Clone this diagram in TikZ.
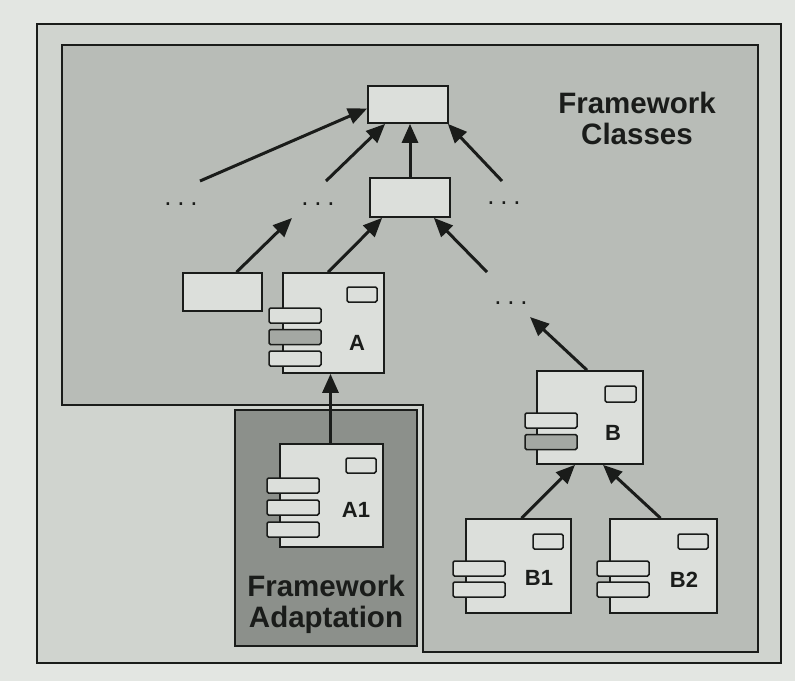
\documentclass[tikz,border=0pt]{standalone}
\usepackage{fontspec}
\setmainfont{Liberation Sans}
\usetikzlibrary{arrows.meta,calc}
\definecolor{pagebg}{HTML}{E3E6E2}
\definecolor{outerbg}{HTML}{D0D4CF}
\definecolor{classbg}{HTML}{B8BCB7}
\definecolor{adaptbg}{HTML}{8C908B}
\definecolor{boxbg}{HTML}{DCDFDB}
\definecolor{tabshade}{HTML}{A4A8A3}
\definecolor{ink}{HTML}{1A1C1A}
\tikzset{
  frameline/.style={draw=ink,line width=1.6pt},
  box/.style={draw=ink,line width=1.7pt,fill=boxbg,rectangle,inner sep=0pt},
  comp/.style={draw=ink,line width=1.7pt,fill=boxbg,rectangle,inner sep=0pt},
  tab/.style={draw=ink,line width=1.5pt,fill=boxbg,rectangle,rounded corners=1.5pt,inner sep=0pt,minimum width=52pt,minimum height=15pt},
  shadedtab/.style={tab,fill=tabshade},
  mini/.style={draw=ink,line width=1.5pt,fill=boxbg,rectangle,rounded corners=1.5pt,inner sep=0pt,minimum width=30pt,minimum height=15pt},
  lbl/.style={font=\fontsize{22}{22}\selectfont\bfseries,text=ink,inner sep=0pt},
  title/.style={font=\fontsize{29.5}{31}\selectfont\bfseries,text=ink,align=center,inner sep=0pt},
  dotrow/.style={font=\fontsize{26}{26}\selectfont,text=ink,inner sep=0pt,anchor=base},
  arr/.style={draw=ink,line width=3pt,-{Triangle[length=19pt,width=16pt]}}
}
\begin{document}
\begin{tikzpicture}[x=1pt,y=-1pt]
\fill[pagebg] (0,0) rectangle (795,681);
\useasboundingbox (0,0) rectangle (795,681);
% outer frame
\draw[frameline,fill=outerbg] (37,24) rectangle (781,663);
% framework classes region
\draw[frameline,fill=classbg] (62,45) -- (758,45) -- (758,652) -- (423,652) -- (423,405) -- (62,405) -- cycle;
% framework adaptation region
\draw[frameline,fill=adaptbg] (235,410) rectangle (417,646);

\node[title] (fc) at (637,118) {Framework\\Classes};
\node[title] (fa) at (326,604) {Framework\\Adaptation};

% plain class boxes
\node[box,minimum width=80pt,minimum height=37pt] (top) at (408,104.5) {};
\node[box,minimum width=80pt,minimum height=39pt] (mid) at (410,197.5) {};
\node[box,minimum width=79pt,minimum height=38pt] (left) at (222.5,292) {};

% component A
\node[comp,minimum width=101pt,minimum height=100pt] (A) at (333.5,323) {};
\node[mini] (Am) at (362,294.5) {};
\node[tab] (At1) at (295,315.5) {};
\node[shadedtab] (At2) at (295,337) {};
\node[tab] (At3) at (295,358.5) {};
\node[lbl] (Al) at (357,343) {A};

% component A1
\node[comp,minimum width=103pt,minimum height=103pt] (A1) at (331.5,495.5) {};
\node[mini] (A1m) at (361,465.5) {};
\node[tab] (A1t1) at (293,485.5) {};
\node[tab] (A1t2) at (293,507.5) {};
\node[tab] (A1t3) at (293,529.5) {};
\node[lbl] (A1l) at (356,510) {A1};

% component B
\node[comp,minimum width=106pt,minimum height=93pt] (B) at (590,417.5) {};
\node[mini,minimum width=31pt,minimum height=16pt] (Bm) at (620.5,394) {};
\node[tab] (Bt1) at (551,420.5) {};
\node[shadedtab] (Bt2) at (551,442) {};
\node[lbl] (Bl) at (613,433) {B};

% component B1
\node[comp,minimum width=105pt,minimum height=94pt] (B1) at (518.5,566) {};
\node[mini] (B1m) at (548,541.5) {};
\node[tab] (B1t1) at (479,568.5) {};
\node[tab] (B1t2) at (479,589.5) {};
\node[lbl] (B1l) at (539,578) {B1};

% component B2
\node[comp,minimum width=107pt,minimum height=94pt] (B2) at (663.5,566) {};
\node[mini] (B2m) at (693,541.5) {};
\node[tab] (B2t1) at (623,568.5) {};
\node[tab] (B2t2) at (623,589.5) {};
\node[lbl] (B2l) at (684,580) {B2};

% ellipses
\node[dotrow] (d1) at (181,205) {.\hspace{5.8pt}.\hspace{5.8pt}.};
\node[dotrow] (d2) at (318,205) {.\hspace{5.8pt}.\hspace{5.8pt}.};
\node[dotrow] (d3) at (504,204) {.\hspace{5.8pt}.\hspace{5.8pt}.};
\node[dotrow] (d4) at (511,304) {.\hspace{5.8pt}.\hspace{5.8pt}.};

% free arrow ends and anchors
\coordinate (s1) at (200,181);
\coordinate (s2) at (326,181);
\coordinate (s3) at (502,181);
\coordinate (e1) at (292,218);
\coordinate (s4) at (487,272);
\coordinate (e2) at (530,317);
\coordinate (a1top) at ($(A1.north)+(-1,0)$);
\coordinate (leftTop) at ($(left.north)+(14,0)$);
\coordinate (aTop) at ($(A.north west)+(46,0)$);
\coordinate (topL1) at ($(top.west)+(0,4)$);
\coordinate (topL2) at ($(top.south west)!0.22!(top.south east)$);
\coordinate (topR) at ($(top.south east)+(-1,0)$);
\coordinate (midL) at ($(mid.south west)+(13,0)$);
\coordinate (midR) at ($(mid.south east)+(-17,0)$);
\coordinate (bTop) at ($(B.north)+(-3,0)$);
\coordinate (bL) at ($(B.south)+(-15,0)$);
\coordinate (bR) at ($(B.south)+(13,0)$);
\coordinate (b1Top) at ($(B1.north)+(3,0)$);
\coordinate (b2Top) at ($(B2.north)+(-3,0)$);

% arrows
\draw[arr] (s1) -- (topL1);
\draw[arr] (s2) -- (topL2);
\draw[arr] (mid.north) -- (mid.north |- top.south);
\draw[arr] (s3) -- (topR);
\draw[arr] (leftTop) -- (e1);
\draw[arr] (aTop) -- (midL);
\draw[arr] (s4) -- (midR);
\draw[arr] (a1top) -- (a1top |- A.south);
\draw[arr] (bTop) -- (e2);
\draw[arr] (b1Top) -- (bL);
\draw[arr] (b2Top) -- (bR);
\end{tikzpicture}
\end{document}
